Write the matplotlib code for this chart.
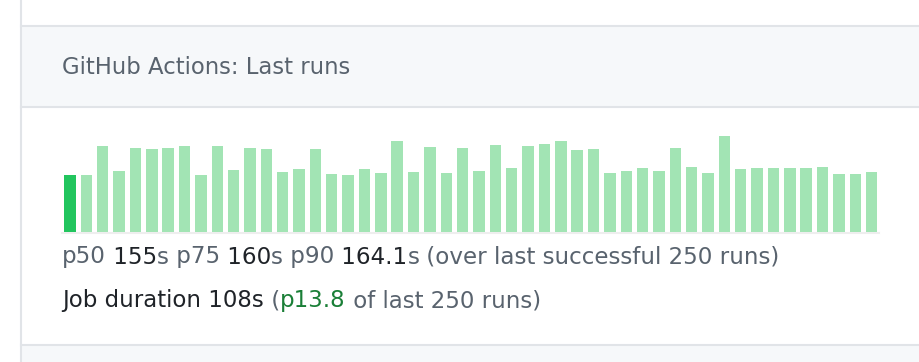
import matplotlib
matplotlib.use("Agg")
import matplotlib.pyplot as plt
from matplotlib.patches import Rectangle

# job durations (seconds) of the last 50 runs, first one is the current job
durations = [108, 108, 165, 117, 160, 158, 160, 165, 109, 164,
             118, 160, 158, 114, 120, 158, 111, 108, 120, 113,
             173, 114, 163, 112, 161, 117, 166, 123, 165, 169,
             173, 156, 159, 112, 117, 122, 116, 161, 125, 112,
             184, 120, 123, 122, 123, 122, 125, 111, 111, 114]
current_idx = 0

header = "GitHub Actions: Last runs"
stats_line = [("p50", "gray"), (" 155", "dark"), ("s", "gray"),
              (" p75", "gray"), (" 160", "dark"), ("s", "gray"),
              (" p90", "gray"), (" 164.1", "dark"), ("s", "gray"),
              (" (over last successful 250 runs)", "gray")]
job_line = [("Job duration 108s", "dark"), (" (", "gray"), ("p13.8", "green"),
            (" of last 250 runs)", "gray")]

colors = {"gray": "#59636e", "dark": "#1f2328", "green": "#1a7f37"}
FONT = ["DejaVu Sans"]

W, H = 920, 362
fig = plt.figure(figsize=(W / 100, H / 100), dpi=100)
fig.patch.set_facecolor("white")

bg = fig.add_axes([0, 0, 1, 1])
bg.set_xlim(0, W)
bg.set_ylim(H, 0)
bg.axis("off")
line_c = "#e1e4e8"
bg.add_patch(Rectangle((21, 25), W, 82, facecolor="#f6f8fa", edgecolor="none"))
bg.add_patch(Rectangle((21, 345), W, 20, facecolor="#f6f8fa", edgecolor="none"))
bg.plot([21, W], [25.5, 25.5], color=line_c, lw=1.5)
bg.plot([21, W], [107, 107], color=line_c, lw=1.5)
bg.plot([21, W], [345, 345], color=line_c, lw=1.5)
bg.plot([21, 21], [0, H], color=line_c, lw=1.5)

bg.text(62, 68, header, fontsize=16.4, color=colors["gray"], family=FONT,
        va="center", ha="left")

# bar chart
ax = fig.add_axes([62 / W, (H - 232) / H, (879 - 62) / W, 101 / H])
xs = list(range(len(durations)))
bar_colors = ["#22c55e" if i == current_idx else "#a2e4b4" for i in xs]
ax.bar(xs, durations, width=0.7, color=bar_colors, edgecolor="none")
ax.set_xlim(-0.49, len(durations) - 0.55)
ax.set_ylim(0, 193)
ax.axis("off")
bg.plot([62, 879], [232.5, 232.5], color="#eeeeee", lw=1.5)

def rainbow(x, y, parts, size):
    t = bg.text(x, y, parts[0][0], fontsize=size, color=colors[parts[0][1]],
                family=FONT, va="center", ha="left")
    for s, c in parts[1:]:
        t = bg.annotate(s, xy=(1, 0.5), xycoords=t, fontsize=size,
                        color=colors[c], family=FONT, va="center", ha="left")
    return t

rainbow(62, 257, stats_line, 16.6)
rainbow(62, 301, job_line, 16.5)

fig.savefig("out.png", dpi=100, facecolor="white")
